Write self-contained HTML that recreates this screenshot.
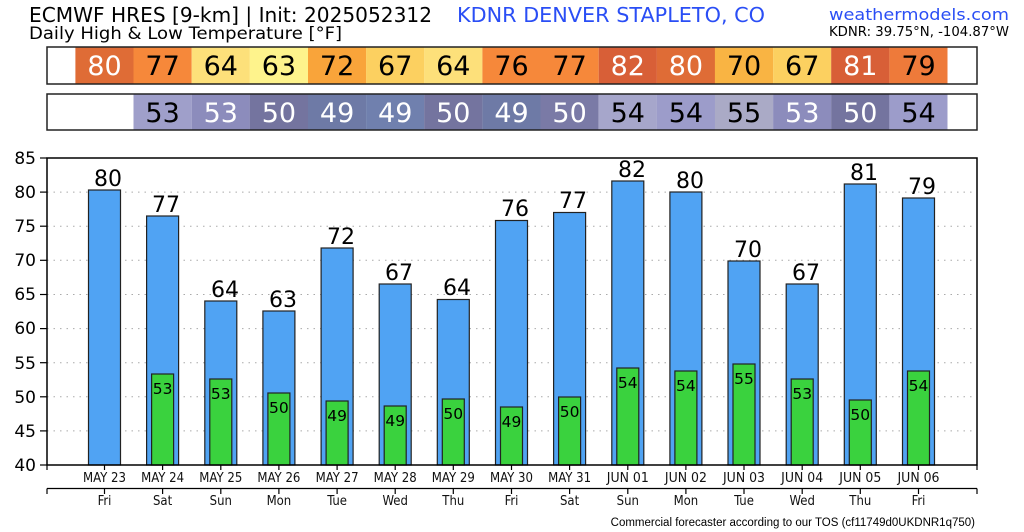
<!DOCTYPE html>
<html><head><meta charset="utf-8"><style>
html,body{margin:0;padding:0;background:#fff;}
svg{display:block;}
.t{font-family:"DejaVu Sans","Liberation Sans",sans-serif;}
.c{font-family:"DejaVu Sans Condensed","DejaVu Sans","Liberation Sans",sans-serif;font-stretch:condensed;}
</style></head><body>
<svg width="1024" height="532" viewBox="0 0 1024 532" xmlns="http://www.w3.org/2000/svg">
<text class="t" x="29" y="22" font-size="20" fill="#000" textLength="403" lengthAdjust="spacingAndGlyphs">ECMWF HRES [9-km] | Init: 2025052312</text>
<text class="t" x="457" y="22" font-size="20" fill="#2a4ef5" textLength="308" lengthAdjust="spacingAndGlyphs">KDNR DENVER STAPLETO, CO</text>
<text class="t" x="29" y="39" font-size="17" fill="#000" textLength="313" lengthAdjust="spacingAndGlyphs">Daily High &amp; Low Temperature [°F]</text>
<text class="t" x="1009" y="20" font-size="16" fill="#2a4ef5" text-anchor="end" textLength="180" lengthAdjust="spacingAndGlyphs">weathermodels.com</text>
<text class="t" x="1009" y="36" font-size="13" fill="#000" text-anchor="end" textLength="180" lengthAdjust="spacingAndGlyphs">KDNR: 39.75°N, -104.87°W</text>

<rect x="47" y="47" width="930" height="37" fill="#fff"/>
<g>
<rect x="75.4" y="47" width="58.2" height="37" fill="#df6c36"/>
<rect x="133.5" y="47" width="58.2" height="37" fill="#f6883a"/>
<rect x="191.7" y="47" width="58.2" height="37" fill="#fde07a"/>
<rect x="249.8" y="47" width="58.2" height="37" fill="#fef38c"/>
<rect x="308" y="47" width="58.2" height="37" fill="#f9a43a"/>
<rect x="366.1" y="47" width="58.2" height="37" fill="#fcd060"/>
<rect x="424.2" y="47" width="58.2" height="37" fill="#fde07a"/>
<rect x="482.4" y="47" width="58.2" height="37" fill="#f6883a"/>
<rect x="540.5" y="47" width="58.2" height="37" fill="#f6883a"/>
<rect x="598.7" y="47" width="58.2" height="37" fill="#d85f37"/>
<rect x="656.8" y="47" width="58.2" height="37" fill="#df6c36"/>
<rect x="714.9" y="47" width="58.2" height="37" fill="#f9b443"/>
<rect x="773.1" y="47" width="58.2" height="37" fill="#fcd060"/>
<rect x="831.2" y="47" width="58.2" height="37" fill="#d85f37"/>
<rect x="889.4" y="47" width="58.1" height="37" fill="#ee7a3a"/>
</g>
<rect x="47" y="47" width="930" height="37" fill="none" stroke="#222" stroke-width="1.5"/>
<g class="t" font-size="27" text-anchor="middle">
<text x="104.5" y="75" fill="#fff">80</text>
<text x="162.6" y="75">77</text>
<text x="220.8" y="75">64</text>
<text x="278.9" y="75">63</text>
<text x="337.1" y="75">72</text>
<text x="395.2" y="75">67</text>
<text x="453.3" y="75">64</text>
<text x="511.5" y="75">76</text>
<text x="569.6" y="75">77</text>
<text x="627.8" y="75" fill="#fff">82</text>
<text x="685.9" y="75" fill="#fff">80</text>
<text x="744" y="75">70</text>
<text x="802.2" y="75">67</text>
<text x="860.3" y="75" fill="#fff">81</text>
<text x="918.5" y="75">79</text>
</g>

<rect x="47" y="94" width="930" height="36" fill="#fff"/>
<g>
<rect x="133.5" y="94" width="58.2" height="36" fill="#9f9fca"/>
<rect x="191.7" y="94" width="58.2" height="36" fill="#8c8cbc"/>
<rect x="249.8" y="94" width="58.2" height="36" fill="#74749f"/>
<rect x="308" y="94" width="58.2" height="36" fill="#6e7aa6"/>
<rect x="366.1" y="94" width="58.2" height="36" fill="#7080ae"/>
<rect x="424.2" y="94" width="58.2" height="36" fill="#74749f"/>
<rect x="482.4" y="94" width="58.2" height="36" fill="#6e7aa6"/>
<rect x="540.5" y="94" width="58.2" height="36" fill="#7a7aa6"/>
<rect x="598.7" y="94" width="58.2" height="36" fill="#a6a6cb"/>
<rect x="656.8" y="94" width="58.2" height="36" fill="#9c9cca"/>
<rect x="714.9" y="94" width="58.2" height="36" fill="#aaaac6"/>
<rect x="773.1" y="94" width="58.2" height="36" fill="#8c8cbc"/>
<rect x="831.2" y="94" width="58.2" height="36" fill="#74749f"/>
<rect x="889.4" y="94" width="58.1" height="36" fill="#9c9cca"/>
</g>
<rect x="47" y="94" width="930" height="36" fill="none" stroke="#222" stroke-width="1.5"/>
<g class="t" font-size="27" text-anchor="middle" fill="#fff">
<text x="162.6" y="122" fill="#000">53</text>
<text x="220.8" y="122">53</text>
<text x="278.9" y="122">50</text>
<text x="337.1" y="122">49</text>
<text x="395.2" y="122">49</text>
<text x="453.3" y="122">50</text>
<text x="511.5" y="122">49</text>
<text x="569.6" y="122">50</text>
<text x="627.8" y="122" fill="#000">54</text>
<text x="685.9" y="122" fill="#000">54</text>
<text x="744" y="122" fill="#000">55</text>
<text x="802.2" y="122">53</text>
<text x="860.3" y="122">50</text>
<text x="918.5" y="122" fill="#000">54</text>
</g>

<g stroke="#aaa" stroke-width="1" stroke-dasharray="1.5,5">
<line x1="47" x2="977" y1="192.1" y2="192.1"/>
<line x1="47" x2="977" y1="226.2" y2="226.2"/>
<line x1="47" x2="977" y1="260.3" y2="260.3"/>
<line x1="47" x2="977" y1="294.5" y2="294.5"/>
<line x1="47" x2="977" y1="328.6" y2="328.6"/>
<line x1="47" x2="977" y1="362.7" y2="362.7"/>
<line x1="47" x2="977" y1="396.8" y2="396.8"/>
<line x1="47" x2="977" y1="430.9" y2="430.9"/>
</g>

<g fill="#50a3f3" stroke="#222" stroke-width="1.2">
<rect x="88.5" y="190" width="32" height="275"/>
<rect x="146.6" y="216" width="32" height="249"/>
<rect x="204.8" y="301" width="32" height="164"/>
<rect x="262.9" y="311" width="32" height="154"/>
<rect x="321.1" y="248" width="32" height="217"/>
<rect x="379.2" y="284" width="32" height="181"/>
<rect x="437.3" y="299.5" width="32" height="165.5"/>
<rect x="495.5" y="220.5" width="32" height="244.5"/>
<rect x="553.6" y="212.5" width="32" height="252.5"/>
<rect x="611.8" y="181" width="32" height="284"/>
<rect x="669.9" y="192" width="32" height="273"/>
<rect x="728" y="261" width="32" height="204"/>
<rect x="786.2" y="284" width="32" height="181"/>
<rect x="844.3" y="184" width="32" height="281"/>
<rect x="902.5" y="198" width="32" height="267"/>
</g>
<g fill="#3ad23e" stroke="#222" stroke-width="1.2">
<rect x="151.6" y="374" width="22" height="91"/>
<rect x="209.8" y="379" width="22" height="86"/>
<rect x="267.9" y="393" width="22" height="72"/>
<rect x="326.1" y="401" width="22" height="64"/>
<rect x="384.2" y="406" width="22" height="59"/>
<rect x="442.3" y="399" width="22" height="66"/>
<rect x="500.5" y="407" width="22" height="58"/>
<rect x="558.6" y="397" width="22" height="68"/>
<rect x="616.8" y="368" width="22" height="97"/>
<rect x="674.9" y="371" width="22" height="94"/>
<rect x="733" y="364" width="22" height="101"/>
<rect x="791.2" y="379" width="22" height="86"/>
<rect x="849.3" y="400" width="22" height="65"/>
<rect x="907.5" y="371" width="22" height="94"/>
</g>

<g class="t" font-size="22" text-anchor="middle">
<text x="108" y="186">80</text>
<text x="166" y="212">77</text>
<text x="225" y="297">64</text>
<text x="283" y="307">63</text>
<text x="341" y="244">72</text>
<text x="399" y="280">67</text>
<text x="457" y="295">64</text>
<text x="515" y="216">76</text>
<text x="573" y="208">77</text>
<text x="632" y="177">82</text>
<text x="690" y="188">80</text>
<text x="748" y="257">70</text>
<text x="806" y="280">67</text>
<text x="864" y="180">81</text>
<text x="922" y="194">79</text>
</g>
<g class="t" font-size="15.5" text-anchor="middle">
<text x="162.6" y="394">53</text>
<text x="220.8" y="399">53</text>
<text x="278.9" y="413">50</text>
<text x="337.1" y="421">49</text>
<text x="395.2" y="426">49</text>
<text x="453.3" y="419">50</text>
<text x="511.5" y="427">49</text>
<text x="569.6" y="417">50</text>
<text x="627.8" y="388">54</text>
<text x="685.9" y="391">54</text>
<text x="744" y="384">55</text>
<text x="802.2" y="399">53</text>
<text x="860.3" y="420">50</text>
<text x="918.5" y="391">54</text>
</g>

<rect x="47" y="158" width="930" height="307" fill="none" stroke="#000" stroke-width="1.5"/>
<g stroke="#000" stroke-width="1.2">
<line x1="40" x2="47" y1="158" y2="158"/>
<line x1="40" x2="47" y1="192.1" y2="192.1"/>
<line x1="40" x2="47" y1="226.2" y2="226.2"/>
<line x1="40" x2="47" y1="260.3" y2="260.3"/>
<line x1="40" x2="47" y1="294.5" y2="294.5"/>
<line x1="40" x2="47" y1="328.6" y2="328.6"/>
<line x1="40" x2="47" y1="362.7" y2="362.7"/>
<line x1="40" x2="47" y1="396.8" y2="396.8"/>
<line x1="40" x2="47" y1="430.9" y2="430.9"/>
<line x1="40" x2="47" y1="465" y2="465"/>
</g>
<g class="t" font-size="17" text-anchor="end">
<text x="36" y="164">85</text>
<text x="36" y="198">80</text>
<text x="36" y="232">75</text>
<text x="36" y="266">70</text>
<text x="36" y="300">65</text>
<text x="36" y="334">60</text>
<text x="36" y="369">55</text>
<text x="36" y="403">50</text>
<text x="36" y="437">45</text>
<text x="36" y="471">40</text>
</g>

<g stroke="#000" stroke-width="1.2">
<line x1="47" x2="47" y1="465" y2="470"/>
<line x1="977" x2="977" y1="465" y2="470"/>
<line x1="47" x2="977" y1="488.5" y2="488.5"/>
<line x1="47" x2="47" y1="488.5" y2="494"/>
<line x1="977" x2="977" y1="488.5" y2="494"/>
<line x1="104.5" x2="104.5" y1="465" y2="470"/><line x1="104.5" x2="104.5" y1="488.5" y2="494"/>
<line x1="162.6" x2="162.6" y1="465" y2="470"/><line x1="162.6" x2="162.6" y1="488.5" y2="494"/>
<line x1="220.8" x2="220.8" y1="465" y2="470"/><line x1="220.8" x2="220.8" y1="488.5" y2="494"/>
<line x1="278.9" x2="278.9" y1="465" y2="470"/><line x1="278.9" x2="278.9" y1="488.5" y2="494"/>
<line x1="337.1" x2="337.1" y1="465" y2="470"/><line x1="337.1" x2="337.1" y1="488.5" y2="494"/>
<line x1="395.2" x2="395.2" y1="465" y2="470"/><line x1="395.2" x2="395.2" y1="488.5" y2="494"/>
<line x1="453.3" x2="453.3" y1="465" y2="470"/><line x1="453.3" x2="453.3" y1="488.5" y2="494"/>
<line x1="511.5" x2="511.5" y1="465" y2="470"/><line x1="511.5" x2="511.5" y1="488.5" y2="494"/>
<line x1="569.6" x2="569.6" y1="465" y2="470"/><line x1="569.6" x2="569.6" y1="488.5" y2="494"/>
<line x1="627.8" x2="627.8" y1="465" y2="470"/><line x1="627.8" x2="627.8" y1="488.5" y2="494"/>
<line x1="685.9" x2="685.9" y1="465" y2="470"/><line x1="685.9" x2="685.9" y1="488.5" y2="494"/>
<line x1="744" x2="744" y1="465" y2="470"/><line x1="744" x2="744" y1="488.5" y2="494"/>
<line x1="802.2" x2="802.2" y1="465" y2="470"/><line x1="802.2" x2="802.2" y1="488.5" y2="494"/>
<line x1="860.3" x2="860.3" y1="465" y2="470"/><line x1="860.3" x2="860.3" y1="488.5" y2="494"/>
<line x1="918.5" x2="918.5" y1="465" y2="470"/><line x1="918.5" x2="918.5" y1="488.5" y2="494"/>
</g>
<g class="c" font-size="13" text-anchor="middle" fill="#111">
<text x="104.5" y="482" textLength="43" lengthAdjust="spacingAndGlyphs">MAY 23</text>
<text x="162.6" y="482" textLength="43" lengthAdjust="spacingAndGlyphs">MAY 24</text>
<text x="220.8" y="482" textLength="43" lengthAdjust="spacingAndGlyphs">MAY 25</text>
<text x="278.9" y="482" textLength="43" lengthAdjust="spacingAndGlyphs">MAY 26</text>
<text x="337.1" y="482" textLength="43" lengthAdjust="spacingAndGlyphs">MAY 27</text>
<text x="395.2" y="482" textLength="43" lengthAdjust="spacingAndGlyphs">MAY 28</text>
<text x="453.3" y="482" textLength="43" lengthAdjust="spacingAndGlyphs">MAY 29</text>
<text x="511.5" y="482" textLength="43" lengthAdjust="spacingAndGlyphs">MAY 30</text>
<text x="569.6" y="482" textLength="43" lengthAdjust="spacingAndGlyphs">MAY 31</text>
<text x="627.8" y="482" textLength="42" lengthAdjust="spacingAndGlyphs">JUN 01</text>
<text x="685.9" y="482" textLength="42" lengthAdjust="spacingAndGlyphs">JUN 02</text>
<text x="744" y="482" textLength="42" lengthAdjust="spacingAndGlyphs">JUN 03</text>
<text x="802.2" y="482" textLength="42" lengthAdjust="spacingAndGlyphs">JUN 04</text>
<text x="860.3" y="482" textLength="42" lengthAdjust="spacingAndGlyphs">JUN 05</text>
<text x="918.5" y="482" textLength="42" lengthAdjust="spacingAndGlyphs">JUN 06</text>
</g>
<g class="c" font-size="13" text-anchor="middle" fill="#111">
<text x="104.5" y="505">Fri</text>
<text x="162.6" y="505">Sat</text>
<text x="220.8" y="505">Sun</text>
<text x="278.9" y="505">Mon</text>
<text x="337.1" y="505">Tue</text>
<text x="395.2" y="505">Wed</text>
<text x="453.3" y="505">Thu</text>
<text x="511.5" y="505">Fri</text>
<text x="569.6" y="505">Sat</text>
<text x="627.8" y="505">Sun</text>
<text x="685.9" y="505">Mon</text>
<text x="744" y="505">Tue</text>
<text x="802.2" y="505">Wed</text>
<text x="860.3" y="505">Thu</text>
<text x="918.5" y="505">Fri</text>
</g>
<text x="975" y="526" font-family="'Liberation Sans',sans-serif" font-size="11.5" text-anchor="end" fill="#000">Commercial forecaster according to our TOS (cf11749d0UKDNR1q750)</text>
</svg>
</body></html>
